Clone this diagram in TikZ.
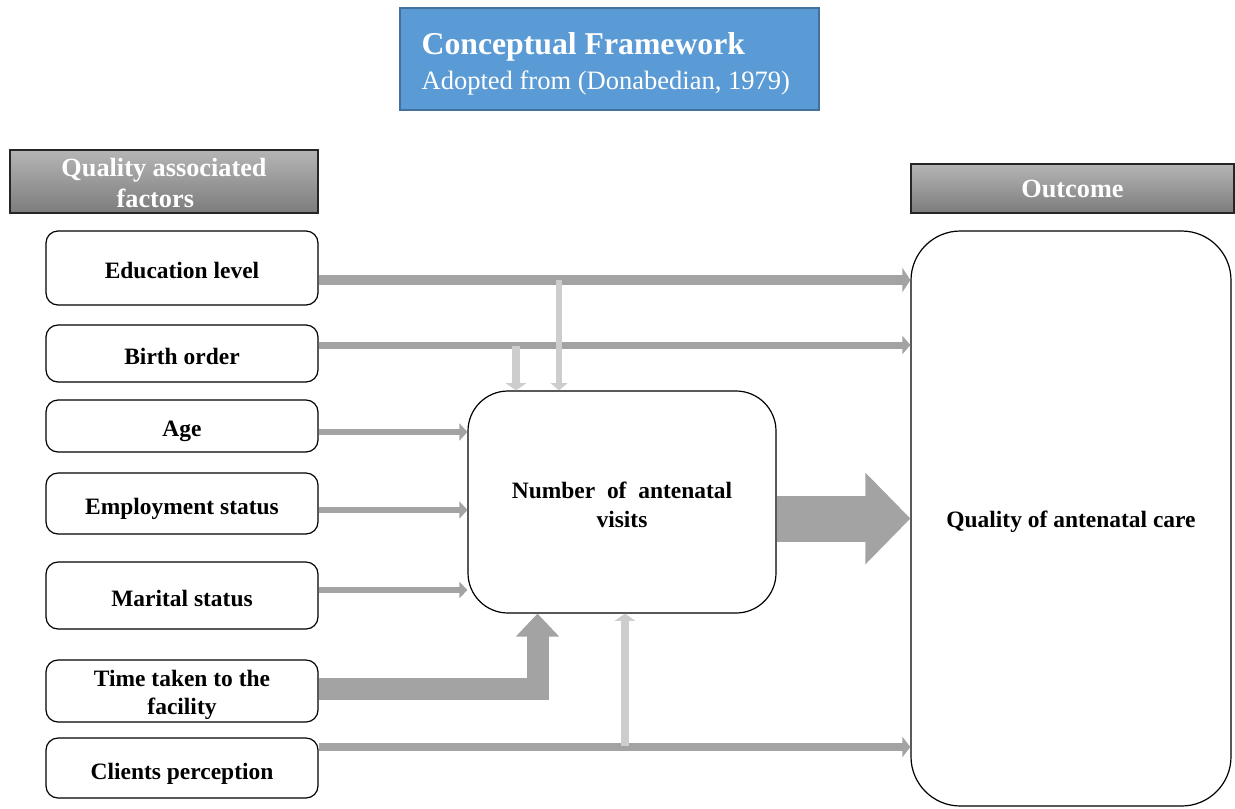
\documentclass[tikz,border=0pt]{standalone}
\usepackage{fontspec}
\setmainfont{Liberation Serif}
\usetikzlibrary{arrows.meta,calc}
\definecolor{titleblue}{HTML}{5B9BD5}
\definecolor{titleedge}{HTML}{41719C}
\definecolor{hdtop}{HTML}{B5B5B5}
\definecolor{hdbot}{HTML}{7C7C7C}
\definecolor{bargray}{HTML}{A3A3A3}
\definecolor{lightbar}{HTML}{CDCDCD}
\begin{document}
\begin{tikzpicture}[x=0.75pt,y=-0.75pt,
  factor/.style={draw=black, line width=0.9pt, rounded corners=9pt, fill=white,
    minimum width=204pt, align=center, inner sep=0pt,
    text height=17pt, text depth=1pt,
    font=\bfseries\fontsize{17.6}{21}\selectfont},
  bigbox/.style={draw=black, line width=0.9pt, fill=white, inner sep=0pt},
  boxtext/.style={align=center, inner sep=0pt,
    font=\bfseries\fontsize{17.6}{21.75}\selectfont},
  header/.style={draw=black!85, line width=0.8pt, top color=hdtop, bottom color=hdbot,
    text=white, align=center, inner sep=0pt,
    font=\bfseries\fontsize{19.7}{23.25}\selectfont},
  hbar/.style={draw=bargray, line width=#1*0.75pt,
    -{Triangle[width=#1*1.5pt+3pt, length=6pt]}},
  vbar/.style={draw=lightbar, line width=#1*0.75pt,
    -{Triangle[width=#1*1.5pt+3.5pt, length=5.5pt]}},
]
\useasboundingbox (0,0) rectangle (1235,808);

% title
\node[draw=titleedge, line width=1pt, fill=titleblue, minimum width=314.25pt,
  minimum height=76.5pt] (title) at (609.5,59) {};
\node[anchor=west, align=left, inner sep=0pt, text=white,
  font=\fontsize{19.9}{26}\selectfont] (titletext)
  at ($(title.west)+(22,4.5)$)
  {{\bfseries\fontsize{23.8}{26}\selectfont Conceptual Framework}\\
   Adopted from (Donabedian, 1979)};

% headers
\node[header, minimum width=231pt, minimum height=47.25pt, text height=39pt, text depth=0pt]
  (hq) at (164,181.5)
  {Quality associated\\factors\kern13pt};
\node[header, minimum width=242.25pt, minimum height=36.75pt] (ho) at (1072.5,188.5)
  {Outcome};

% factor boxes
\node[factor, minimum height=55.5pt] (edu) at (182,268) {Education level};
\node[factor, minimum height=42.75pt] (bir) at (182,353.5) {Birth order};
\node[factor, minimum height=39pt] (age) at (182,426) {Age};
\node[factor, minimum height=45.75pt] (emp) at (182,503.5) {Employment status};
\node[factor, minimum height=50.25pt] (mar) at (182,595.5) {Marital status};
\node[factor, minimum height=46.5pt] (tim) at (182,691) {};
\node[boxtext, font=\bfseries\fontsize{17.6}{21}\selectfont] (timtext)
  at ($(tim.center)+(0,4)$) {Time taken to the\\facility};
\node[factor, minimum height=45pt, text height=18.5pt] (cli) at (182,768) {Clients perception};

% central and outcome boxes
\node[bigbox, rounded corners=30pt, minimum width=231pt, minimum height=166.5pt]
  (num) at (622,502) {};
\node[boxtext] (numtext) at ($(num.center)+(0,3)$) {Number~~of~~antenatal\\visits};
\node[bigbox, rounded corners=37pt, minimum width=240pt, minimum height=431.25pt]
  (out) at (1071,518.5) {};
\node[boxtext] (outtext) at ($(out.center)+(0,3)$) {Quality of antenatal care};

% horizontal bars
\path ($(edu.east)+(0,12)$) coordinate (e1);
\path ($(bir.east)+(0,-8.5)$) coordinate (b1);
\path ($(cli.east)+(0,-21)$) coordinate (c1);
\draw[hbar=10] (e1) -- (e1 -| out.west);
\draw[hbar=7] (b1) -- (b1 -| out.west);
\draw[hbar=8] (c1) -- (c1 -| out.west);
\draw[hbar=6.5] ($(age.east)+(0,6)$) coordinate (a1) -- (a1 -| num.west);
\draw[hbar=6.5] ($(emp.east)+(0,6.5)$) coordinate (m1) -- (m1 -| num.west);
\draw[hbar=6] ($(mar.east)+(0,-5.5)$) coordinate (r1) -- (r1 -| num.west);

% vertical light arrows
\path ($(num.north)+(-63,0)$) coordinate (v1);
\path ($(num.north)+(-106,0)$) coordinate (v2);
\path ($(num.south)+(3,0)$) coordinate (v3);
\draw[vbar=6] (v1 |- e1) -- (v1);
\draw[vbar=8] ($(v2 |- b1)+(0,1)$) -- (v2);
\draw[vbar=8] ($(v3 |- c1)+(0,-1)$) -- (v3);

% time taken arrow
\path ($(num.south)+(-84.5,0)$) coordinate (t1);
\draw[draw=bargray, line width=16.5pt, line join=miter,
  -{Triangle[width=31.5pt, length=17.25pt]}]
  ($(tim.east)+(0,-2)$) -| (t1);

% big arrow
\draw[draw=bargray, line width=34.5pt,
  -{Triangle[width=66.75pt, length=33.75pt]}]
  (num.east |- out.west) -- (out.west);
\end{tikzpicture}
\end{document}
